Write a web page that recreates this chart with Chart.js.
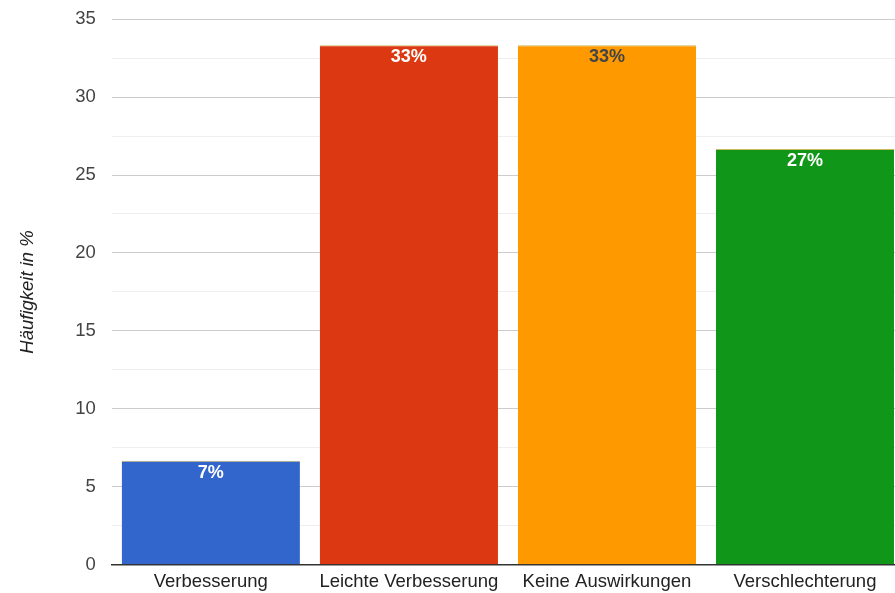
<!DOCTYPE html>
<html>
<head>
<meta charset="utf-8">
<script src="https://cdn.jsdelivr.net/npm/chart.js@4.4.0/dist/chart.umd.min.js"></script>
<style>
  html, body { margin: 0; padding: 0; background: #fff; overflow: hidden; }
  #wrap { width: 904px; height: 601px; margin-top: -8px; }
</style>
</head>
<body>
<div id="wrap"><canvas id="c"></canvas></div>
<script>
// data
const categories = ['Verbesserung', 'Leichte Verbesserung', 'Keine Auswirkungen', 'Verschlechterung'];
const values = [6.67, 33.33, 33.33, 26.67];
const valueLabels = ['7%', '33%', '33%', '27%'];
const barColors = ['#3366cc', '#dc3912', '#ff9900', '#109618'];
const labelColors = ['#ffffff', '#ffffff', '#444444', '#ffffff'];
const yTitle = 'Häufigkeit in %';

const FONT = '"Liberation Sans", Arial, sans-serif';

// draws the % text just under the top of each bar
const barLabels = {
    id: 'barLabels',
    afterDatasetsDraw(chart) {
        const ctx = chart.ctx;
        const meta = chart.getDatasetMeta(0);
        ctx.save();
        ctx.font = 'bold 18px ' + FONT;
        ctx.textAlign = 'center';
        ctx.textBaseline = 'middle';
        meta.data.forEach((bar, i) => {
            ctx.fillStyle = labelColors[i];
            ctx.fillText(valueLabels[i], bar.x, bar.y + 12);
        });
        ctx.restore();
    }
};

new Chart(document.getElementById('c'), {
    type: 'bar',
    data: {
        labels: categories,
        datasets: [{
            data: values,
            backgroundColor: barColors,
            borderColor: '#c9b85c',
            borderWidth: { top: 1, left: 0, right: 0, bottom: 0 },
            borderSkipped: false,
            barPercentage: 0.9,
            categoryPercentage: 1
        }]
    },
    options: {
        responsive: true,
        maintainAspectRatio: false,
        animation: false,
        layout: { padding: { top: 0, right: 0, left: 17, bottom: -6 } },
        plugins: {
            legend: { display: false },
            tooltip: { enabled: false }
        },
        scales: {
            x: {
                grid: { display: false, drawTicks: false },
                border: { color: '#333333', width: 1.5 },
                ticks: {
                    color: '#222222',
                    padding: 6,
                    maxRotation: 0,
                    font: { family: FONT, size: 18.5 }
                }
            },
            y: {
                min: 0,
                max: 35,
                border: { display: false },
                grid: {
                    drawTicks: false,
                    color: (c) => (c.tick && c.tick.value % 5 === 0) ? '#cccccc' : '#eeeeee'
                },
                ticks: {
                    stepSize: 2.5,
                    autoSkip: false,
                    padding: 16,
                    color: '#444444',
                    font: { family: FONT, size: 18.5 },
                    callback: (v) => v % 5 === 0 ? v : ''
                },
                title: {
                    display: true,
                    text: yTitle,
                    color: '#222222',
                    padding: { top: 0, bottom: 20 },
                    font: { family: FONT, size: 18.5, style: 'italic' }
                }
            }
        }
    },
    plugins: [barLabels]
});
</script>
</body>
</html>
